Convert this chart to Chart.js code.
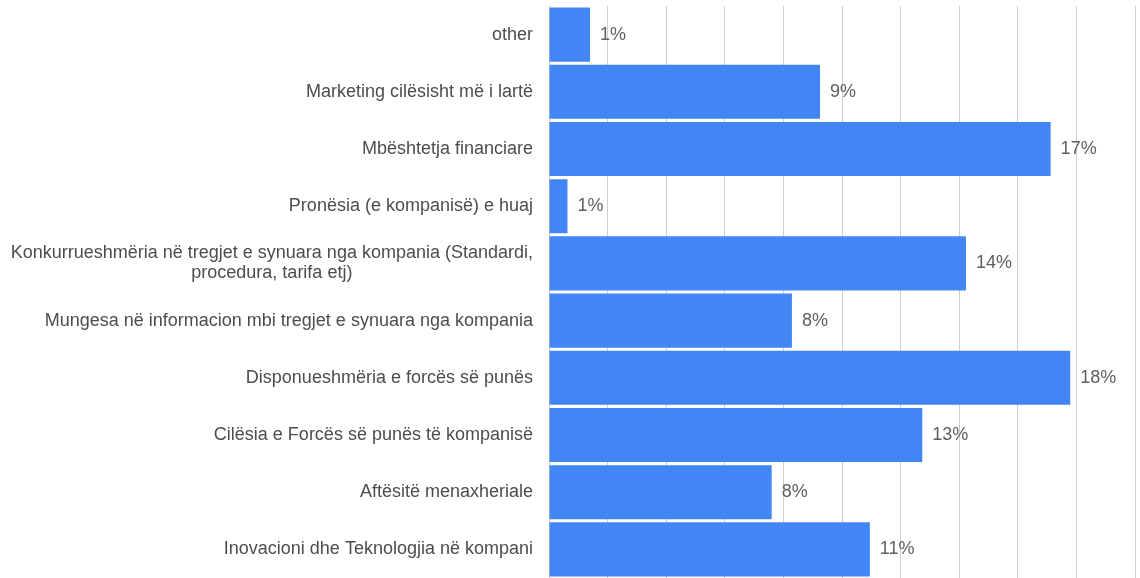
<!DOCTYPE html>
<html>
<head>
<meta charset="utf-8">
<script src="https://cdn.jsdelivr.net/npm/chart.js@4"></script>
<style>
  html, body { margin: 0; padding: 0; background: #fff; }
  #wrap { width: 1140px; height: 578px; }
</style>
</head>
<body>
<div id="wrap"><canvas id="barChart" width="1140" height="578"></canvas></div>
<script>
const categories = [
    'other',
    'Marketing cilësisht më i lartë',
    'Mbështetja financiare',
    'Pronësia (e kompanisë) e huaj',
    ['Konkurrueshmëria në tregjet e synuara nga kompania (Standardi,', 'procedura, tarifa etj)'],
    'Mungesa në informacion mbi tregjet e synuara nga kompania',
    'Disponueshmëria e forcës së punës',
    'Cilësia e Forcës së punës të kompanisë',
    'Aftësitë menaxheriale',
    'Inovacioni dhe Teknologjia në kompani'
];
const shares = [1.40, 9.25, 17.12, 0.63, 14.23, 8.29, 17.79, 12.74, 7.60, 10.95];
const axisMax = 20;
const axisStep = 2;

const fontFamily = '"Liberation Sans", Arial, sans-serif';

// draws the category names on the left and the % labels at the end of each bar
const labelPlugin = {
    id: 'labels',
    afterDatasetsDraw(chart) {
        const ctx = chart.ctx;
        const yScale = chart.scales.y;
        const xScale = chart.scales.x;
        const right = chart.chartArea.left - 16;
        ctx.save();
        ctx.font = '18px ' + fontFamily;
        ctx.textBaseline = 'middle';

        categories.forEach((cat, i) => {
            const y = yScale.getPixelForValue(i);
            ctx.fillStyle = '#4d4d4d';
            if (Array.isArray(cat)) {
                const widest = Math.max(...cat.map(l => ctx.measureText(l).width));
                const mid = right - widest / 2;
                const lineH = 20;
                const top = y - (cat.length - 1) * lineH / 2;
                ctx.textAlign = 'center';
                cat.forEach((line, j) => ctx.fillText(line, mid, top + j * lineH));
            } else {
                ctx.textAlign = 'right';
                ctx.fillText(cat, right, y);
            }
        });

        ctx.textAlign = 'left';
        ctx.fillStyle = '#5f5f5f';
        chart.getDatasetMeta(0).data.forEach((bar, i) => {
            const x = xScale.getPixelForValue(shares[i]);
            ctx.fillText(Math.round(shares[i]) + '%', x + 10, bar.y);
        });
        ctx.restore();
    }
};

const ctx = document.getElementById('barChart').getContext('2d');
const barChart = new Chart(ctx, {
    type: 'bar',
    data: {
        labels: categories,
        datasets: [{
            data: shares,
            backgroundColor: '#4285f4',
            borderWidth: 0,
            barPercentage: 0.945,
            categoryPercentage: 1
        }]
    },
    options: {
        indexAxis: 'y',
        responsive: false,
        animation: false,
        layout: { padding: { left: 549, right: 5, top: 6, bottom: 0 } },
        plugins: {
            legend: { display: false },
            tooltip: { enabled: false }
        },
        scales: {
            x: {
                min: 0,
                max: axisMax,
                ticks: { display: false, stepSize: axisStep },
                grid: { color: '#cfcfcf', drawTicks: false, lineWidth: 1 },
                border: { display: false }
            },
            y: {
                ticks: { display: false },
                grid: { display: false, drawTicks: false },
                border: { display: false }
            }
        }
    },
    plugins: [labelPlugin]
});
</script>
</body>
</html>
